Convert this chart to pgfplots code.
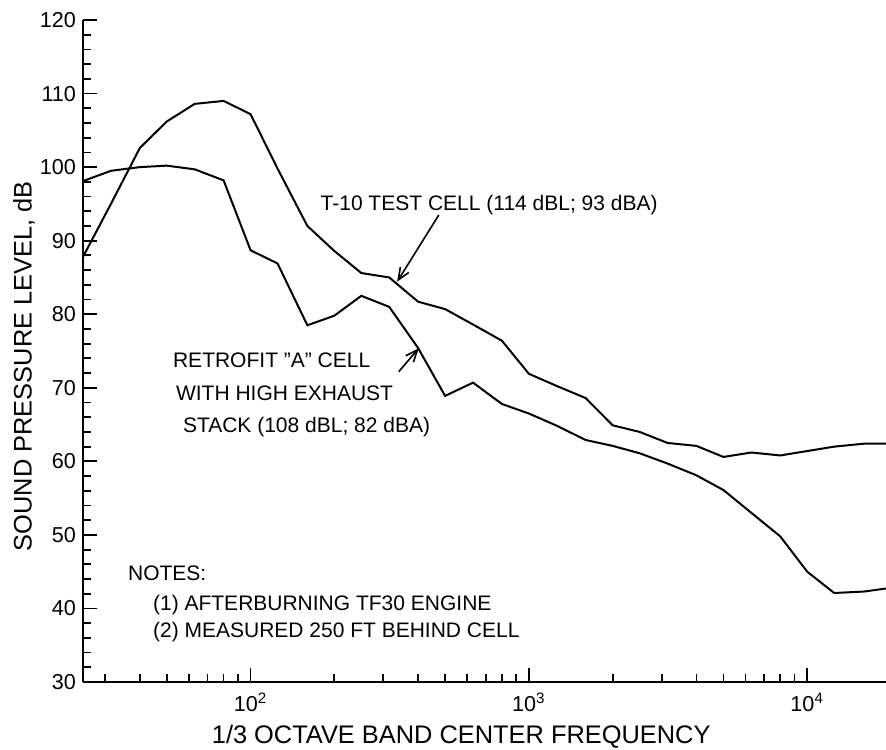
\documentclass[border=0pt]{standalone}
\usepackage{fontspec}
\setmainfont{Liberation Sans}
\usepackage{pgfplots}
\pgfplotsset{compat=1.18}
\usetikzlibrary{arrows.meta}
\pgfplotstableread{
f y
25 87.8
31.5 95.0
40 102.6
50 106.2
63 108.6
80 109.0
100 107.2
125 99.8
160 92.0
200 88.6
250 85.6
315 85.0
400 81.7
500 80.7
630 78.6
800 76.4
1000 71.9
1250 70.3
1600 68.6
2000 64.9
2500 64.0
3150 62.5
4000 62.1
5000 60.6
6300 61.2
8000 60.8
10000 61.4
12500 62.0
16000 62.4
20000 62.4
}\tten
\pgfplotstableread{
f y
25 98.1
31.5 99.5
40 100.0
50 100.2
63 99.7
80 98.2
100 88.7
125 86.9
160 78.5
200 79.8
250 82.5
315 81.0
400 75.4
500 68.9
630 70.7
800 67.8
1000 66.5
1250 64.9
1600 62.9
2000 62.1
2500 61.1
3150 59.7
4000 58.1
5000 56.1
6300 53.0
8000 49.8
10000 45.0
12500 42.1
16000 42.3
20000 42.8
}\retro
\begin{document}
\begin{tikzpicture}
\useasboundingbox (-41.5pt,-33.5pt) rectangle (401.5pt,341pt);
\begin{axis}[
  at={(0pt,0pt)}, anchor=south west,
  scale only axis, width=401.5pt, height=331pt,
  xmode=log, xmin=25, xmax=19200, ymin=30, ymax=120,
  axis lines*=left,
  axis line style={line width=1.3pt},
  tick align=inside,
  xtick={100,1000,10000},
  xticklabels={10\textsuperscript{2},10\textsuperscript{3},10\textsuperscript{4}},
  minor xtick={30,40,50,60,70,80,90,200,300,400,500,600,700,800,900,2000,3000,4000,5000,6000,7000,8000,9000},
  ytick={30,40,50,60,70,80,90,100,110,120},
  minor y tick num=4,
  tick style={line width=0.9pt, black},
  major tick length=7pt, minor tick length=4pt,
  /pgf/number format/assume math mode=true,
  ticklabel style={font=\fontsize{10.8}{12}\selectfont},
  xticklabel style={yshift=-2pt},
  xlabel={1/3 OCTAVE BAND CENTER FREQUENCY},
  ylabel={SOUND PRESSURE LEVEL, dB},
  label style={font=\fontsize{12.7}{15}\selectfont},
  xlabel style={at={(axis description cs:0.471,-0.083)}, anchor=center},
  ylabel style={at={(axis description cs:-0.0735,0.477)}, anchor=center},
]
\addplot[black, line width=1pt] table[x=f, y=y] {\tten};
\addplot[black, line width=1pt] table[x=f, y=y] {\retro};
\node[anchor=west, inner sep=0pt, font=\fontsize{10.5}{12}\selectfont] at (axis cs:178,94.85) {T-10 TEST CELL (114 dBL; 93 dBA)};
\draw[line width=0.8pt, -{Straight Barb[length=6pt,width=5pt]}] (axis cs:474.5,93.49) -- (axis cs:336.3,84.42);
\node[anchor=west, inner sep=0pt, font=\fontsize{10.5}{12}\selectfont] at (axis cs:52.5,73.78) {RETROFIT \char34 A\char34{} CELL};
\node[anchor=west, inner sep=0pt, font=\fontsize{10.5}{12}\selectfont] at (axis cs:53.8,69.29) {WITH HIGH EXHAUST};
\node[anchor=west, inner sep=0pt, font=\fontsize{10.5}{12}\selectfont] at (axis cs:57.0,64.67) {STACK (108 dBL; 82 dBA)};
\draw[line width=0.8pt, -{Straight Barb[length=6pt,width=5pt]}] (axis cs:340.8,72.19) -- (axis cs:402,75.37);
\node[anchor=west, inner sep=0pt, font=\fontsize{10.5}{12}\selectfont] at (axis cs:36.2,44.82) {NOTES:};
\node[anchor=west, inner sep=0pt, font=\fontsize{10.5}{12}\selectfont] at (axis cs:44.5,40.47) {(1) AFTERBURNING TF30 ENGINE};
\node[anchor=west, inner sep=0pt, font=\fontsize{10.5}{12}\selectfont] at (axis cs:44.5,36.80) {(2) MEASURED 250 FT BEHIND CELL};
\end{axis}
\end{tikzpicture}
\end{document}
